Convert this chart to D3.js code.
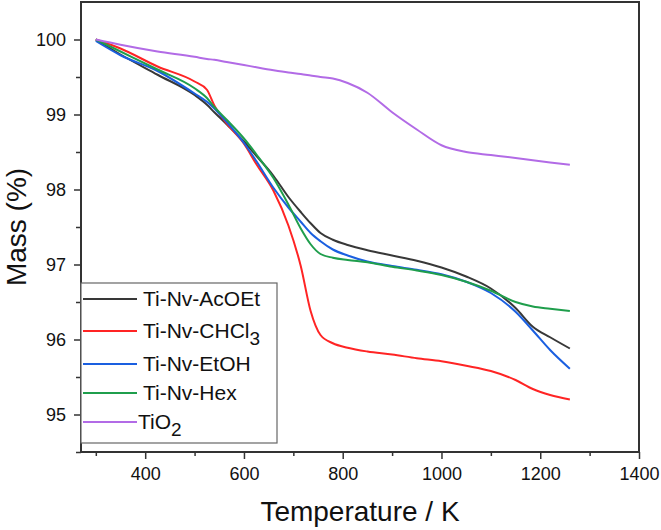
<!DOCTYPE html>
<html>
<head>
<meta charset="utf-8">
<script src="https://cdn.jsdelivr.net/npm/d3@7"></script>
<style>
  body { margin: 0; background: #fff; }
  svg { font-family: "Liberation Sans", Arial, sans-serif; }
</style>
</head>
<body>
<svg id="chart" width="661" height="530"></svg>
<script>
var width = 661, height = 530;
var margin = {top: 2, right: 22, bottom: 78, left: 81};

var temps = [300, 350, 425, 500, 525, 540, 565, 600, 625, 660, 690, 715, 735, 755, 780, 810, 850, 900, 950, 1000, 1050, 1100, 1150, 1185, 1220, 1260];

// mass (%) per sample
var acoet = [100, 99.8, 99.53, 99.26, 99.13, 99.03, 98.87, 98.64, 98.45, 98.18, 97.9, 97.7, 97.55, 97.42, 97.33, 97.26, 97.19, 97.12, 97.05, 96.96, 96.84, 96.68, 96.42, 96.17, 96.03, 95.88];
var chcl3 = [100, 99.88, 99.64, 99.44, 99.33, 99.12, 98.88, 98.61, 98.34, 97.98, 97.52, 96.98, 96.38, 96.06, 95.95, 95.89, 95.84, 95.8, 95.75, 95.71, 95.65, 95.58, 95.46, 95.34, 95.26, 95.2];
var etoh  = [99.98, 99.79, 99.58, 99.28, 99.17, 99.08, 98.9, 98.62, 98.38, 98.02, 97.76, 97.57, 97.42, 97.31, 97.2, 97.12, 97.04, 96.98, 96.93, 96.87, 96.77, 96.62, 96.37, 96.12, 95.86, 95.61];
var hex   = [100, 99.84, 99.6, 99.35, 99.22, 99.1, 98.93, 98.68, 98.47, 98.15, 97.8, 97.48, 97.27, 97.14, 97.09, 97.06, 97.03, 96.97, 96.92, 96.86, 96.77, 96.65, 96.5, 96.44, 96.41, 96.38];
var tio2  = [100, 99.93, 99.84, 99.77, 99.74, 99.73, 99.7, 99.66, 99.63, 99.59, 99.56, 99.54, 99.52, 99.5, 99.48, 99.42, 99.29, 99.03, 98.8, 98.59, 98.5, 98.46, 98.42, 98.39, 98.36, 98.33];

var seriesNames = ["Ti-Nv-AcOEt", "Ti-Nv-CHCl3", "Ti-Nv-EtOH", "Ti-Nv-Hex", "TiO2"];
var seriesData = [acoet, chcl3, etoh, hex, tio2];
var colors = ["#383838", "#ff2424", "#1a5fe0", "#1f9e4c", "#b26be6"];

var xTicks = [400, 600, 800, 1000, 1200, 1400];
var yTicks = [95, 96, 97, 98, 99, 100];

var svg = d3.select("#chart");

var x = d3.scaleLinear()
    .domain([270, 1400])
    .range([margin.left, width - margin.right]);

var y = d3.scaleLinear()
    .domain([94.5, 100.5])
    .range([height - margin.bottom, margin.top]);

var line = d3.line()
    .x(function(d) { return x(d[0]); })
    .y(function(d) { return y(d[1]); })
    .curve(d3.curveMonotoneX);

// curves
seriesData.forEach(function(vals, i) {
    svg.append("path")
        .datum(temps.map(function(t, j) { return [t, vals[j]]; }))
        .attr("d", line)
        .attr("fill", "none")
        .attr("stroke", colors[i])
        .attr("stroke-width", 2);
});

// frame
svg.append("rect")
    .attr("x", margin.left)
    .attr("y", margin.top)
    .attr("width", width - margin.left - margin.right)
    .attr("height", height - margin.top - margin.bottom)
    .attr("fill", "none")
    .attr("stroke", "#333")
    .attr("stroke-width", 2);

// x axis
var xMinor = d3.range(300, 1400, 200);
svg.append("g")
    .attr("transform", "translate(0," + (height - margin.bottom) + ")")
    .call(d3.axisBottom(x).tickValues(xMinor).tickSize(4).tickFormat(""))
    .call(function(g) { g.select(".domain").remove(); })
    .selectAll("line").attr("stroke", "#333").attr("stroke-width", 1.5);

var xAxis = svg.append("g")
    .attr("transform", "translate(0," + (height - margin.bottom) + ")")
    .call(d3.axisBottom(x).tickValues(xTicks).tickSize(7).tickPadding(8).tickFormat(d3.format("d")));
xAxis.select(".domain").remove();
xAxis.selectAll("line").attr("stroke", "#333").attr("stroke-width", 1.5);
xAxis.selectAll("text").attr("font-size", 18).attr("fill", "#111")
    .attr("font-family", "Liberation Sans, Arial, sans-serif");

// y axis
var yMinor = d3.range(94.5, 100.5, 1);
svg.append("g")
    .attr("transform", "translate(" + margin.left + ",0)")
    .call(d3.axisLeft(y).tickValues(yMinor).tickSize(5).tickFormat(""))
    .call(function(g) { g.select(".domain").remove(); })
    .selectAll("line").attr("stroke", "#333").attr("stroke-width", 1.5);

var yAxis = svg.append("g")
    .attr("transform", "translate(" + margin.left + ",0)")
    .call(d3.axisLeft(y).tickValues(yTicks).tickSize(7).tickPadding(8).tickFormat(d3.format("d")));
yAxis.select(".domain").remove();
yAxis.selectAll("line").attr("stroke", "#333").attr("stroke-width", 1.5);
yAxis.selectAll("text").attr("font-size", 18).attr("fill", "#111")
    .attr("font-family", "Liberation Sans, Arial, sans-serif");

// axis titles
svg.append("text")
    .attr("x", (margin.left + width - margin.right) / 2)
    .attr("y", 521)
    .attr("text-anchor", "middle")
    .attr("font-size", 28)
    .attr("fill", "#111")
    .text("Temperature / K");

svg.append("text")
    .attr("transform", "translate(26," + ((margin.top + height - margin.bottom) / 2) + ") rotate(-90)")
    .attr("text-anchor", "middle")
    .attr("font-size", 28)
    .attr("fill", "#111")
    .text("Mass (%)");

// legend
var legend = svg.append("g").attr("class", "legend");
legend.append("rect")
    .attr("x", margin.left)
    .attr("y", 283)
    .attr("width", 196)
    .attr("height", 160)
    .attr("fill", "#fff")
    .attr("stroke", "#666")
    .attr("stroke-width", 1.2);

var rowY = [299, 331, 364, 393, 422];
seriesNames.forEach(function(name, i) {
    var g = legend.append("g").attr("transform", "translate(0," + rowY[i] + ")");
    g.append("line")
        .attr("x1", 83).attr("x2", 137)
        .attr("stroke", colors[i])
        .attr("stroke-width", 2);
    var t = g.append("text")
        .attr("x", name === "TiO2" ? 138 : 143)
        .attr("y", 7)
        .attr("font-size", 21)
        .attr("fill", "#111");
    var m = name.match(/^(.*?)(\d)$/);
    if (m) {
        t.append("tspan").text(m[1]);
        t.append("tspan").attr("dy", 7).attr("font-size", 19).text(m[2]);
    } else {
        t.text(name);
    }
});
</script>
</body>
</html>
